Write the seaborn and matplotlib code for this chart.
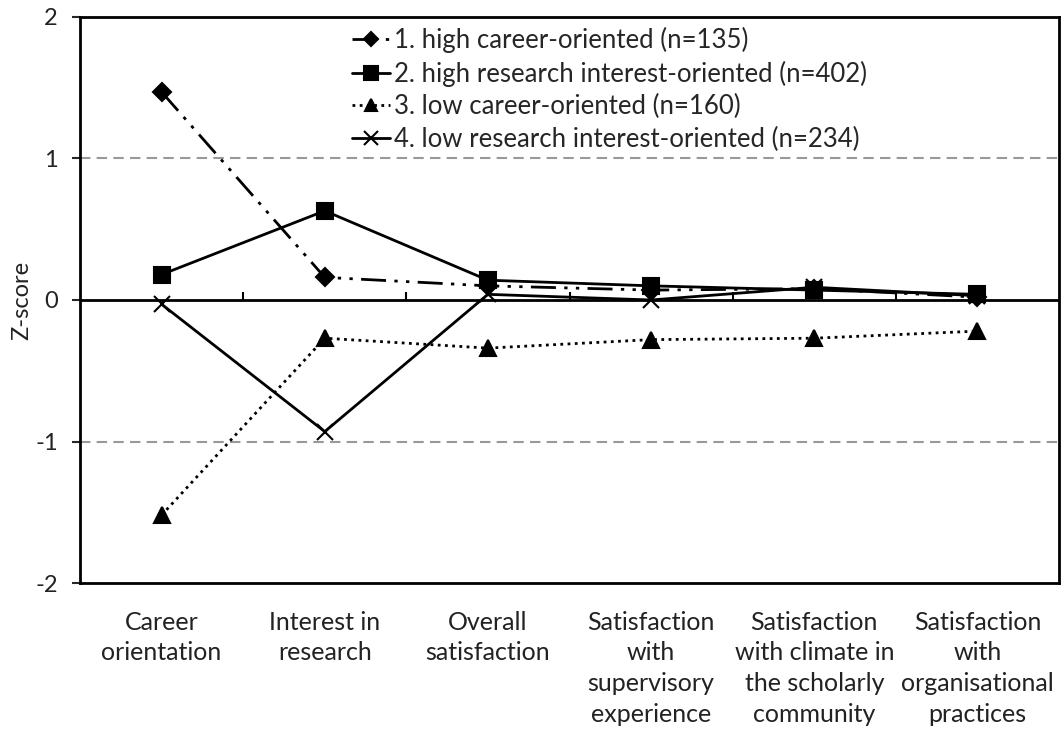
import matplotlib.pyplot as plt
import seaborn as sns
import numpy as np
import pandas as pd

sns.set_style('white')
plt.rcParams['font.family'] = ['Lato', 'DejaVu Sans']

# categories on the x axis
categories = ['Career\norientation', 'Interest in\nresearch', 'Overall\nsatisfaction',
              'Satisfaction\nwith\nsupervisory\nexperience',
              'Satisfaction\nwith climate in\nthe scholarly\ncommunity',
              'Satisfaction\nwith\norganisational\npractices']

# z-scores per cluster
high_career = [1.47, 0.16, 0.10, 0.07, 0.08, 0.02]
high_research = [0.18, 0.63, 0.14, 0.10, 0.07, 0.04]
low_career = [-1.52, -0.27, -0.34, -0.28, -0.27, -0.22]
low_research = [-0.03, -0.93, 0.04, 0.00, 0.09, 0.03]

labels = ['1. high career-oriented (n=135)',
          '2. high research interest-oriented (n=402)',
          '3. low career-oriented (n=160)',
          '4. low research interest-oriented (n=234)']

fig = plt.figure(figsize=(10.64, 7.38), dpi=100)
ax = fig.add_axes([0.0752, 0.210, 0.9201, 0.767])

# zero line drawn first so markers sit on top
ax.axhline(0, color='black', lw=2, zorder=1)
for yv in (-1, 1):
    ax.axhline(yv, color='#999999', lw=1.5, ls=(0, (5, 3)), zorder=0)

styles = [
    (high_career, 'D', 9, (0, (9, 3, 1.2, 3, 1.2, 3))),
    (high_research, 's', 12, '-'),
    (low_career, '^', 11, (0, (1, 1.6))),
    (low_research, 'x', 12, '-'),
]

for (vals, mk, ms, ls), lab in zip(styles, labels):
    df = pd.DataFrame({'cat': categories, 'z': vals})
    sns.lineplot(data=df, x='cat', y='z', ax=ax, color='black', lw=2,
                 marker=mk, markersize=ms, markeredgecolor='black',
                 markeredgewidth=1.5, linestyle=ls, label=lab, sort=False, zorder=3)

ax.set_xlim(-0.5, len(categories) - 0.5)
ax.set_ylim(-2, 2)
ax.set_yticks([-2, -1, 0, 1, 2])
ax.set_yticklabels(['-2', '-1', '0', '1', '2'], fontsize=17, color='#222222')
ax.set_xticks(range(len(categories)))
ax.set_xticklabels(categories, fontsize=18, color='#222222', linespacing=1.4)
ax.tick_params(axis='x', length=0, pad=20)
ax.tick_params(axis='y', direction='out', length=6, width=1.5, left=True, pad=10)
ax.set_xlabel('')
ax.set_ylabel('Z-score', fontsize=17, color='#222222', labelpad=2)

for sp in ax.spines.values():
    sp.set_color('black')
    sp.set_linewidth(2)

# small category separators on the zero line
sec = ax.secondary_xaxis(0.5)
sec.set_xticks(np.arange(len(categories) - 1) + 0.5)
sec.set_xticklabels([])
sec.tick_params(axis='x', direction='out', length=6, width=1.5, color='black')
sec.spines['bottom'].set_visible(False)

leg = ax.legend(loc='upper left', bbox_to_anchor=(0.262, 1.01), frameon=False,
                fontsize=18.5, handlelength=1.5, handletextpad=0.15,
                labelspacing=0.3, borderaxespad=0.2)
for h in leg.legend_handles:
    h.set_markersize(h.get_markersize() * 0.8)

fig.savefig('out.png', dpi=100)
